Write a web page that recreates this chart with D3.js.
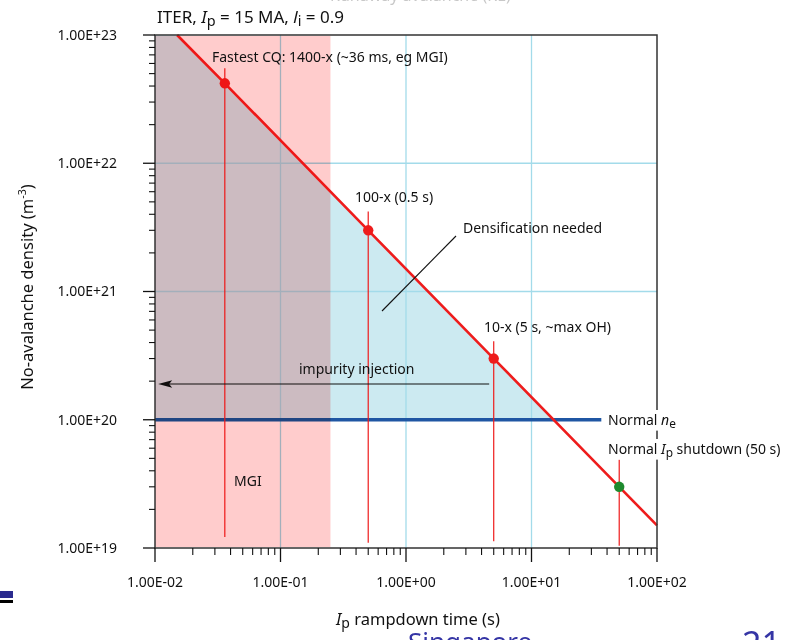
<!DOCTYPE html>
<html>
<head>
<meta charset="utf-8">
<script src="https://cdn.jsdelivr.net/npm/d3@7"></script>
<style>
  body { margin: 0; background: #fff; }
  svg { font-family: "Noto Sans", sans-serif; }
  .pink { mix-blend-mode: multiply; }
</style>
</head>
<body>
<div id="chart"></div>
<script>
// decade ticks and labels
const xMajor = [0.01, 0.1, 1, 10, 100];
const xTickLabels = ["1.00E-02", "1.00E-01", "1.00E+00", "1.00E+01", "1.00E+02"];
const yMajor = [1e19, 1e20, 1e21, 1e22, 1e23];
const yTickLabels = ["1.00E+19", "1.00E+20", "1.00E+21", "1.00E+22", "1.00E+23"];

// no-avalanche density vs rampdown time
const curveTime = [0.015, 0.036, 0.5, 5, 50, 100];
const curveDensity = [1e23, 4.2e22, 3e21, 3e20, 3e19, 1.5e19];

// marked cases
const markTime = [0.036, 0.5, 5, 50];
const markDensity = [4.2e22, 3e21, 3e20, 3e19];
const markTop = [5.5e22, 4.2e21, 4.1e20, 4.9e19];
const markBottom = [1.22e19, 1.1e19, 1.13e19, 1.04e19];
const markColor = ["#ee1c1c", "#ee1c1c", "#ee1c1c", "#1e8a2e"];

// "densification needed" region (under curve, above normal ne)
const fillTime = [0.01, 0.015, 15, 0.01];
const fillDensity = [1e23, 1e23, 1e20, 1e20];

const mgiTime = [0.01, 0.25];          // MGI band
const normalNe = 1e20;
const normalNeEnd = 36;
const arrowTime = [4.6, 0.0106];
const arrowDensity = 1.9e20;
const gridTime = [0.1, 1, 10];
const gridDensity = [1e21, 1e22];

const width = 800, height = 640;
const svg = d3.select("#chart").append("svg")
  .attr("width", width).attr("height", height);

const x = d3.scaleLog().domain([0.01, 100]).range([155, 657]);
const y = d3.scaleLog().domain([1e19, 1e23]).range([548, 35]);

const plot = svg.append("g");

// blue fill
plot.append("path")
  .attr("d", d3.line().x((d, i) => x(fillTime[i])).y((d, i) => y(fillDensity[i]))(fillTime) + "Z")
  .attr("fill", "#cceaf1");

// grid
plot.selectAll(".gx").data(gridTime).join("line")
  .attr("x1", d => x(d)).attr("x2", d => x(d))
  .attr("y1", y(1e23)).attr("y2", y(1e19))
  .attr("stroke", "#a3dbea").attr("stroke-width", 1.3);
plot.selectAll(".gy").data(gridDensity).join("line")
  .attr("x1", x(0.01)).attr("x2", x(100))
  .attr("y1", d => y(d)).attr("y2", d => y(d))
  .attr("stroke", "#a3dbea").attr("stroke-width", 1.3);

// normal ne line
plot.append("line")
  .attr("x1", x(0.01)).attr("x2", x(normalNeEnd))
  .attr("y1", y(normalNe)).attr("y2", y(normalNe))
  .attr("stroke", "#1f56a3").attr("stroke-width", 3.6);

// marker verticals
plot.selectAll(".mv").data(markTime).join("line")
  .attr("x1", d => x(d)).attr("x2", d => x(d))
  .attr("y1", (d, i) => y(markTop[i])).attr("y2", (d, i) => y(markBottom[i]))
  .attr("stroke", "#ee1c1c").attr("stroke-width", 1.2);

// curve
plot.append("path")
  .attr("d", d3.line().x((d, i) => x(curveTime[i])).y((d, i) => y(curveDensity[i]))(curveTime))
  .attr("fill", "none").attr("stroke", "#ee1c1c").attr("stroke-width", 2.6);

plot.selectAll(".dot").data(markTime).join("circle")
  .attr("cx", d => x(d)).attr("cy", (d, i) => y(markDensity[i]))
  .attr("r", 5.2).attr("fill", (d, i) => markColor[i]);

// impurity injection arrow
const ay = y(arrowDensity);
plot.append("line")
  .attr("x1", x(arrowTime[0])).attr("x2", x(arrowTime[1]) + 10)
  .attr("y1", ay).attr("y2", ay)
  .attr("stroke", "#111").attr("stroke-width", 1.2);
const tip = x(arrowTime[1]);
plot.append("path")
  .attr("d", `M${tip},${ay} L${tip + 14},${ay - 3.8} L${tip + 11},${ay} L${tip + 14},${ay + 3.8}Z`)
  .attr("fill", "#111");

// leader for "Densification needed"
plot.append("line")
  .attr("x1", 382).attr("y1", 311).attr("x2", 456).attr("y2", 236)
  .attr("stroke", "#111").attr("stroke-width", 1.1);

// MGI band, multiplied over everything
plot.append("rect").attr("class", "pink")
  .attr("x", x(mgiTime[0])).attr("width", x(mgiTime[1]) - x(mgiTime[0]))
  .attr("y", y(1e23) + 1).attr("height", y(1e19) - y(1e23) - 2)
  .attr("fill", "#ffcccc");

// frame
svg.append("rect")
  .attr("x", x(0.01)).attr("y", y(1e23))
  .attr("width", x(100) - x(0.01)).attr("height", y(1e19) - y(1e23))
  .attr("fill", "none").attr("stroke", "#333").attr("stroke-width", 1.5);

// minor ticks
const minors = d => {
  const out = [];
  for (let i = 0; i < d.length - 1; i++)
    for (let k = 2; k <= 9; k++) out.push(d[i] * k);
  return out;
};

const yAxis = svg.append("g").attr("transform", `translate(${x(0.01)},0)`);
yAxis.selectAll(".ymaj").data(yMajor).join("line")
  .attr("x1", -12).attr("x2", 0).attr("y1", d => y(d)).attr("y2", d => y(d))
  .attr("stroke", "#111").attr("stroke-width", 1.3);
yAxis.selectAll(".ymin").data(minors(yMajor)).join("line")
  .attr("x1", -6).attr("x2", 0).attr("y1", d => y(d)).attr("y2", d => y(d))
  .attr("stroke", "#111").attr("stroke-width", 1.1);
yAxis.selectAll("text").data(yMajor).join("text")
  .attr("x", -38).attr("y", d => y(d)).attr("dy", "0.35em")
  .attr("text-anchor", "end").attr("font-size", 14).attr("fill", "#111")
  .text((d, i) => yTickLabels[i]);

const xAxis = svg.append("g").attr("transform", `translate(0,${y(1e19)})`);
xAxis.selectAll(".xmaj").data(xMajor).join("line")
  .attr("x1", d => x(d)).attr("x2", d => x(d)).attr("y1", 0).attr("y2", 14)
  .attr("stroke", "#111").attr("stroke-width", 1.3);
xAxis.selectAll(".xmin").data(minors(xMajor)).join("line")
  .attr("x1", d => x(d)).attr("x2", d => x(d)).attr("y1", 0).attr("y2", 7)
  .attr("stroke", "#111").attr("stroke-width", 1.1);
xAxis.selectAll("text").data(xMajor).join("text")
  .attr("x", d => x(d)).attr("y", 39)
  .attr("text-anchor", "middle").attr("font-size", 14).attr("fill", "#111")
  .text((d, i) => xTickLabels[i]);

// text helpers
const label = (tx, ty, size, parts, bg) => {
  const t = svg.append("text").attr("x", tx).attr("y", ty)
    .attr("font-size", size).attr("fill", "#111");
  parts.forEach(p => {
    const s = t.append("tspan").text(p.t);
    if (p.i) s.attr("font-style", "italic");
    if (p.sub) s.attr("baseline-shift", "-22%").attr("font-size", size * 0.85);
    if (p.sup) s.attr("baseline-shift", "super").attr("font-size", size * 0.65);
  });
  if (bg) {
    const b = t.node().getBBox();
    svg.insert("rect", () => t.node())
      .attr("x", b.x - 2).attr("y", b.y).attr("width", b.width + 4).attr("height", b.height)
      .attr("fill", "#fff");
  }
  return t;
};

label(157, 23, 17, [{t: "ITER, "}, {t: "I", i: 1}, {t: "p", sub: 1}, {t: " = 15 MA, "},
  {t: "l", i: 1}, {t: "i", sub: 1}, {t: " = 0.9"}]);
label(212, 62, 14, [{t: "Fastest CQ: 1400-x (~36 ms, eg MGI)"}]);
label(355, 202, 14, [{t: "100-x (0.5 s)"}]);
label(463, 233, 14, [{t: "Densification needed"}]);
label(484, 332, 14, [{t: "10-x (5 s, ~max OH)"}]);
label(299, 374, 14, [{t: "impurity injection"}]);
label(608, 425, 14, [{t: "Normal "}, {t: "n", i: 1}, {t: "e", sub: 1}], true);
label(608, 454, 14, [{t: "Normal "}, {t: "I", i: 1}, {t: "p", sub: 1}, {t: " shutdown (50 s)"}], true);
label(234, 486, 14, [{t: "MGI"}]);

label(336, 625, 16.5, [{t: "I", i: 1}, {t: "p", sub: 1}, {t: " rampdown time (s)"}]);
label(0, 0, 16.5, [{t: "No-avalanche density (m"}, {t: "-3", sup: 1}, {t: ")"}])
  .attr("text-anchor", "middle")
  .attr("transform", "translate(33,287) rotate(-90)");

// slide remnants around the figure
svg.append("rect").attr("x", 0).attr("y", 591).attr("width", 13).attr("height", 7).attr("fill", "#2b2b8f");
svg.append("rect").attr("x", 0).attr("y", 600).attr("width", 13).attr("height", 3).attr("fill", "#000");
svg.append("text").attr("x", 408).attr("y", 651).attr("font-size", 26)
  .attr("fill", "#3535a5").text("Singapore");
svg.append("text").attr("x", 742).attr("y", 656).attr("font-size", 34)
  .attr("fill", "#3535a5").text("21");
svg.append("text").attr("x", 330).attr("y", 1).attr("font-size", 16)
  .attr("fill", "#c8c8c8").text("Runaway avalanche (RE)");
</script>
</body>
</html>
